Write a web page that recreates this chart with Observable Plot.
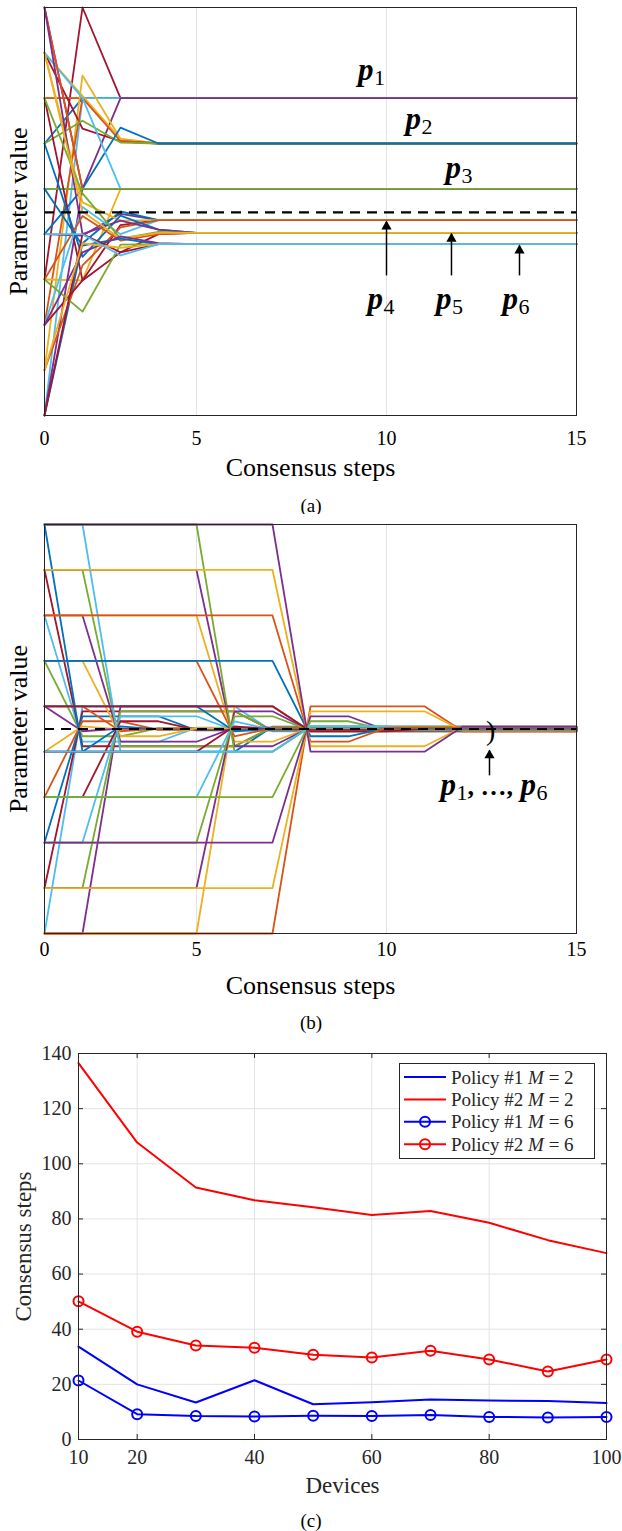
<!DOCTYPE html>
<html><head><meta charset="utf-8">
<script src="https://cdn.jsdelivr.net/npm/d3@7"></script>
<script src="https://cdn.jsdelivr.net/npm/@observablehq/plot@0.6"></script>
<style>
body{margin:0;background:#fff;}
#root{position:relative;width:622px;height:1531px;overflow:hidden;font-family:"Liberation Serif","Times New Roman",serif;background:#fff;}
#root svg text, #root svg tspan{font-family:"Liberation Serif","Times New Roman",serif !important;}
.panel{position:absolute;left:0;}
.cap{position:absolute;left:0;width:622px;text-align:center;font-size:19px;line-height:22px;color:#000;}
</style></head><body><div id="root"></div>
<script>
const serif = "Liberation Serif, Times New Roman, serif";
const palette = ["#0072BD", "#D95319", "#EDB120", "#7E2F8E", "#77AC30", "#4DBEEE", "#A2142F"];

// ---------- shared x axis of panels (a) and (b) ----------
const stepTicks = [1, 5, 10, 15];
const stepTickLabels = ["0", "5", "10", "15"];
const stepGrid = [5, 10];

// ---------- panel (a) ----------
const aSteps = [1, 2, 3, 4, 5, 15];
const aColors = [6, 2, 1, 0, 5, 3,  2, 2, 6, 1, 4, 0,  5, 2, 1, 0, 3, 4,  3, 6, 0, 2, 5, 1,  0, 3, 6, 1, 4, 2,  4, 0, 3, 6, 2, 5];
const aValues = [
  [3, 9, 7, 7, 7, 7], [7, 7, 7, 7, 7, 7], [7, 7, 7, 7, 7, 7], [6, 7, 7, 7, 7, 7], [0, 7, 7, 7, 7, 7], [9, 5, 7, 7, 7, 7],
  [1, 7.5, 6.1, 6, 6, 6], [8, 7.05, 6.1, 6, 6, 6], [8, 6.33, 6.05, 6, 6, 6], [2, 7, 6.05, 6, 6, 6], [6, 6.5, 6.02, 6, 6, 6], [4, 5, 6.35, 6, 6, 6],
  [8, 7, 5, 5, 5, 5], [3, 2.98, 5, 5, 5, 5], [9, 5, 5, 5, 5, 5], [5, 5, 5, 5, 5, 5], [0, 5, 5, 5, 5, 5], [5, 5, 5, 5, 5, 5],
  [4, 3.97, 4.45, 4.31, 4.31, 4.31], [7, 2.98, 4.2, 4.31, 4.31, 4.31], [0, 3.8, 4.5, 4.31, 4.31, 4.31], [8, 4.7, 4.3, 4.31, 4.31, 4.31], [2, 4.6, 4.0, 4.31, 4.31, 4.31], [1, 3.31, 4.15, 4.31, 4.31, 4.31],
  [6, 3.5, 4.41, 4.1, 4.03, 4.03], [9, 4.0, 4.3, 4.1, 4.03, 4.03], [2, 2.98, 3.6, 4.0, 4.03, 4.03], [3, 4.4, 3.86, 4.0, 4.03, 4.03], [7, 4.9, 3.9, 4.05, 4.03, 4.03], [8, 4.5, 3.9, 4.03, 4.03, 4.03],
  [3, 2.29, 3.77, 3.78, 3.78, 3.78], [5, 3.75, 3.9, 3.78, 3.78, 3.78], [2, 3.6, 3.95, 3.8, 3.78, 3.78], [0, 4.0, 3.6, 3.78, 3.78, 3.78], [1, 3.8, 3.7, 3.78, 3.78, 3.78], [4, 4.0, 3.53, 3.78, 3.78, 3.78]
];
const aReference = [4.48];
const aLabels = [
  {sub: "1", step: 9.25, value: 7.39},
  {sub: "2", step: 10.5, value: 6.33},
  {sub: "3", step: 11.55, value: 5.25},
  {sub: "4", step: 9.5, value: 2.36},
  {sub: "5", step: 11.3, value: 2.36},
  {sub: "6", step: 13.05, value: 2.36}
];
const aArrows = [
  {step: 10.0, from: 3.09, to: 4.28},
  {step: 11.71, from: 3.09, to: 4.01},
  {step: 13.5, from: 3.09, to: 3.75}
];

// ---------- panel (b) ----------
const bColors = [
  5, 6, 0, 1, 2, 3, 4, 5, 6, 0,
  3, 4, 5, 6, 0, 1, 2, 3, 4, 5,
  2, 3, 4, 5, 6, 0, 1, 2, 3, 4,
  1, 2, 3, 4, 5, 6, 0, 1, 2, 3
];
const bSteps = [
  [1, 2, 6, 7, 15], [1, 2, 6, 7, 15], [1, 2, 4, 5, 15], [1, 2, 3, 4, 15], [1, 2, 3, 15], [1, 2, 3, 15], [1, 2, 3, 4, 15], [1, 2, 4, 5, 15], [1, 2, 6, 7, 15], [1, 2, 6, 7, 15],
  [1, 2, 3, 7, 8, 15], [1, 2, 3, 6, 7, 15], [1, 2, 3, 5, 6, 15], [1, 2, 3, 4, 5, 15], [1, 2, 3, 4, 15], [1, 2, 3, 4, 15], [1, 2, 3, 4, 5, 15], [1, 2, 3, 5, 6, 15], [1, 2, 3, 6, 7, 15], [1, 2, 3, 7, 8, 15],
  [1, 5, 6, 7, 8, 15], [1, 5, 6, 7, 8, 15], [1, 5, 6, 7, 8, 15], [1, 5, 6, 7, 15], [1, 5, 6, 7, 15], [1, 5, 6, 7, 15], [1, 5, 6, 7, 15], [1, 5, 6, 7, 8, 15], [1, 5, 6, 7, 8, 15], [1, 5, 6, 7, 8, 15],
  [1, 7, 8, 11, 12, 15], [1, 7, 8, 11, 12, 15], [1, 7, 8, 9, 10, 15], [1, 7, 8, 9, 10, 15], [1, 7, 8, 10, 11, 15], [1, 7, 8, 10, 11, 15], [1, 7, 8, 9, 10, 15], [1, 7, 8, 9, 10, 15], [1, 7, 8, 11, 12, 15], [1, 7, 8, 11, 12, 15]
];
const bValues = [
  [0, 5.00, 5.00, 4.45, 4.45], [1, 4.89, 4.89, 4.46, 4.46], [2, 4.78, 4.78, 4.47, 4.47], [3, 4.67, 4.67, 4.48, 4.48], [4, 4.56, 4.49, 4.49], [5, 4.45, 4.51, 4.51], [6, 4.34, 4.34, 4.52, 4.52], [7, 4.22, 4.22, 4.53, 4.53], [8, 4.12, 4.12, 4.54, 4.54], [9, 4.00, 4.00, 4.55, 4.55],
  [0, 0, 5.00, 5.00, 4.45, 4.45], [1, 1, 4.89, 4.89, 4.46, 4.46], [2, 2, 4.78, 4.78, 4.47, 4.47], [3, 3, 4.67, 4.67, 4.48, 4.48], [4, 4, 4.56, 4.49, 4.49], [5, 5, 4.45, 4.51, 4.51], [6, 6, 4.34, 4.34, 4.52, 4.52], [7, 7, 4.22, 4.22, 4.53, 4.53], [8, 8, 4.12, 4.12, 4.54, 4.54], [9, 9, 4.00, 4.00, 4.55, 4.55],
  [0, 0, 5.00, 5.00, 4.45, 4.45], [1, 1, 4.89, 4.89, 4.46, 4.46], [2, 2, 4.78, 4.78, 4.47, 4.47], [3, 3, 4.67, 4.48, 4.48], [4, 4, 4.56, 4.49, 4.49], [5, 5, 4.45, 4.51, 4.51], [6, 6, 4.34, 4.52, 4.52], [7, 7, 4.22, 4.22, 4.53, 4.53], [8, 8, 4.12, 4.12, 4.54, 4.54], [9, 9, 4.00, 4.00, 4.55, 4.55],
  [0, 0, 5.00, 5.00, 4.45, 4.45], [1, 1, 4.89, 4.89, 4.46, 4.46], [2, 2, 4.78, 4.78, 4.47, 4.47], [3, 3, 4.67, 4.67, 4.48, 4.48], [4, 4, 4.56, 4.56, 4.49, 4.49], [5, 5, 4.45, 4.45, 4.51, 4.51], [6, 6, 4.34, 4.34, 4.52, 4.52], [7, 7, 4.22, 4.22, 4.53, 4.53], [8, 8, 4.12, 4.12, 4.54, 4.54], [9, 9, 4.00, 4.00, 4.55, 4.55]
];
const bReference = [4.5];
const bLabel = [{step: 11.42, value: 3.04}];
const bArrow = [{step: 12.71, from: 3.48, to: 4.03}];
const bBracket = [{step: 12.62, value: 4.45}];

// ---------- panel (c) ----------
const devices = [10, 20, 30, 40, 50, 60, 70, 80, 90, 100];
const policy1M2 = [33.7, 20.0, 13.4, 21.5, 12.8, 13.5, 14.5, 14.1, 14.0, 13.2];
const policy2M2 = [136.5, 107.7, 91.4, 86.8, 84.2, 81.4, 82.9, 78.6, 72.3, 67.6];
const policy1M6 = [21.4, 9.2, 8.5, 8.3, 8.6, 8.5, 8.9, 8.2, 8.0, 8.2];
const policy2M6 = [50.1, 39.1, 34.1, 33.3, 30.7, 29.7, 32.2, 29.0, 24.7, 29.0];
const cXTicks = [10, 20, 40, 60, 80, 100];
const cYTicks = [0, 20, 40, 60, 80, 100, 120, 140];
const cLegend = [
  {policy: "1", m: "2", color: "#0000FF", marker: false},
  {policy: "2", m: "2", color: "#FF0000", marker: false},
  {policy: "1", m: "6", color: "#0000FF", marker: true},
  {policy: "2", m: "6", color: "#FF0000", marker: true}
];

// ---------- build ----------
const root = document.getElementById("root");
function place(el, top) { const d = document.createElement("div"); d.className = "panel"; d.style.top = top + "px"; d.appendChild(el); root.appendChild(d); }
function caption(txt, top) { const d = document.createElement("div"); d.className = "cap"; d.style.top = top + "px"; d.textContent = txt; root.appendChild(d); }

const rowsA = aValues.flatMap((vals, i) => vals.map((v, j) => ({line: i, step: aSteps[j], value: v, color: palette[aColors[i]]})));
const rowsB = bValues.flatMap((vals, i) => vals.map((v, j) => ({line: i, step: bSteps[i][j], value: v, color: palette[bColors[i]]})));

function stepPanel(rows, ref, marginTop, innerH, marginBottom, extra, tickPad) {
  return Plot.plot({
    width: 622, height: marginTop + innerH + marginBottom,
    marginLeft: 44, marginRight: 46, marginTop, marginBottom,
    style: {fontFamily: serif, background: "white", color: "#000", overflow: "visible"},
    x: {domain: [1, 15], axis: null},
    y: {domain: [0, 9], axis: null},
    color: {type: "identity"},
    marks: [
      Plot.ruleX(stepGrid, {stroke: "#e3e3e3", strokeWidth: 1}),
      Plot.line(rows, {x: "step", y: "value", z: "line", stroke: "color", strokeWidth: 1.8}),
      Plot.ruleY(ref, {stroke: "#000", strokeWidth: 2.2, strokeDasharray: "10,7"}),
      Plot.frame({stroke: "#262626", strokeWidth: 1}),
      Plot.axisX(stepTicks, {tickSize: 0, tickPadding: tickPad, fontSize: 20, tickFormat: d => stepTickLabels[stepTicks.indexOf(d)], label: null}),
      Plot.text(["Consensus steps"], {frameAnchor: "bottom", dy: 60, lineAnchor: "bottom", textAnchor: "middle", fontSize: 26, fill: "#000"}),
      Plot.text(["Parameter value"], {frameAnchor: "left", dx: -18, rotate: -90, lineAnchor: "bottom", textAnchor: "middle", fontSize: 26, fill: "#000"}),
      ...extra
    ]
  });
}

const pStyle = {x: "step", y: "value", textAnchor: "start", lineAnchor: "bottom", fill: "#000"};
const plotA = stepPanel(rowsA, aReference, 7, 408, 73, [
  Plot.link(aArrows, {x1: "step", x2: "step", y1: "from", y2: "to", stroke: "#000", strokeWidth: 1.5}),
  Plot.dot(aArrows, {x: "step", y: "to", symbol: "triangle", fill: "#000", stroke: "none", r: 3.8, dy: 5}),
  Plot.text(aLabels, {...pStyle, text: d => "p", fontSize: 31, fontWeight: "bold", fontStyle: "italic"}),
  Plot.text(aLabels, {...pStyle, text: "sub", dx: 16, dy: 5, fontSize: 22})
], 15);
place(plotA, 0);
caption("(a)", 495);

const plotB = stepPanel(rowsB, bReference, 10, 409, 65, [
  Plot.link(bArrow, {x1: "step", x2: "step", y1: "from", y2: "to", stroke: "#000", strokeWidth: 1.5}),
  Plot.dot(bArrow, {x: "step", y: "to", symbol: "triangle", fill: "#000", stroke: "none", r: 3.8, dy: 5}),
  Plot.text(bBracket, {x: "step", y: "value", text: d => ")", fontSize: 28, fill: "#000", textAnchor: "start"}),
  Plot.text(bLabel, {...pStyle, text: d => "p", fontSize: 31, fontWeight: "bold", fontStyle: "italic"}),
  Plot.text(bLabel, {...pStyle, text: d => "1", dx: 16, dy: 5, fontSize: 22}),
  Plot.text(bLabel, {...pStyle, text: d => ", \u2026,", dx: 27, fontSize: 26, fontWeight: "bold"}),
  Plot.text(bLabel, {...pStyle, text: d => "p", dx: 80, fontSize: 31, fontWeight: "bold", fontStyle: "italic"}),
  Plot.text(bLabel, {...pStyle, text: d => "6", dx: 96, dy: 5, fontSize: 22})
], 8);
place(plotB, 514);
caption("(b)", 1012);

// panel (c)
const cSeries = [
  {data: policy1M2, color: "#0000FF", marker: false},
  {data: policy2M2, color: "#FF0000", marker: false},
  {data: policy1M6, color: "#0000FF", marker: true},
  {data: policy2M6, color: "#FF0000", marker: true}
];
const cMarks = cSeries.flatMap(s => {
  const rows = devices.map((d, i) => ({devices: d, steps: s.data[i]}));
  const m = [Plot.line(rows, {x: "devices", y: "steps", stroke: s.color, strokeWidth: 2})];
  if (s.marker) m.push(Plot.dot(rows, {x: "devices", y: "steps", stroke: s.color, strokeWidth: 2, r: 5, fill: "none"}));
  return m;
});
const plotC = Plot.plot({
  width: 622, height: 489,
  marginLeft: 78, marginRight: 16, marginTop: 11, marginBottom: 92,
  style: {fontFamily: serif, background: "white", color: "#262626", overflow: "visible"},
  x: {domain: [10, 100], axis: null},
  y: {domain: [0, 140], axis: null},
  marks: [
    Plot.ruleX(cXTicks.slice(1, -1), {stroke: "#e3e3e3", strokeWidth: 1}),
    Plot.ruleY(cYTicks.slice(1, -1), {stroke: "#e3e3e3", strokeWidth: 1}),
    Plot.ruleY(cYTicks.slice(1, -1), {x1: 10, x2: 10.85, stroke: "#262626"}),
    Plot.ruleY(cYTicks.slice(1, -1), {x1: 99.15, x2: 100, stroke: "#262626"}),
    Plot.ruleX(cXTicks.slice(1, -1), {y1: 0, y2: 1.8, stroke: "#262626"}),
    Plot.ruleX(cXTicks.slice(1, -1), {y1: 138.2, y2: 140, stroke: "#262626"}),
    ...cMarks,
    Plot.frame({stroke: "#262626", strokeWidth: 1}),
    Plot.axisX(cXTicks, {tickSize: 0, tickPadding: 10, fontSize: 20, label: null, fill: "#262626"}),
    Plot.axisY(cYTicks, {tickSize: 0, tickPadding: 7, fontSize: 20, label: null, fill: "#262626"}),
    Plot.text(["Devices"], {frameAnchor: "bottom", dy: 53, lineAnchor: "bottom", textAnchor: "middle", fontSize: 23, fill: "#262626"}),
    Plot.text(["Consensus steps"], {frameAnchor: "left", dx: -48, rotate: -90, lineAnchor: "bottom", textAnchor: "middle", fontSize: 23, fill: "#262626"})
  ]
});
// legend box
const lg = d3.select(plotC).append("g").attr("text-anchor", "start");
lg.append("rect").attr("x", 399.5).attr("y", 21.5).attr("width", 195).attr("height", 95).attr("fill", "white").attr("stroke", "#262626").attr("stroke-width", 1);
cLegend.forEach((it, i) => {
  const y = 35 + i * 22.4;
  lg.append("line").attr("x1", 404).attr("x2", 446).attr("y1", y).attr("y2", y).attr("stroke", it.color).attr("stroke-width", 2);
  if (it.marker) lg.append("circle").attr("cx", 425).attr("cy", y).attr("r", 5).attr("fill", "none").attr("stroke", it.color).attr("stroke-width", 2);
  const t = lg.append("text").attr("x", 451).attr("y", y + 6.5).attr("font-size", 19).attr("fill", "#262626").attr("text-anchor", "start");
  t.append("tspan").text("Policy #" + it.policy + " ");
  t.append("tspan").attr("font-style", "italic").text("M");
  t.append("tspan").text(" = " + it.m);
});
place(plotC, 1042);
caption("(c)", 1510);
d3.selectAll("#root svg text").style("font-family", "'Liberation Serif', serif");
</script>
</body></html>
